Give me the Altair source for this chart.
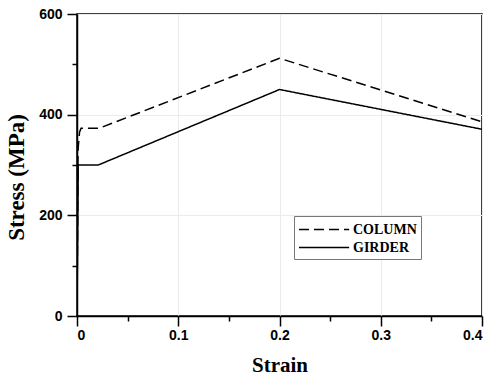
import altair as alt
import pandas as pd

col_strain = [0.0, 0.001, 0.0025, 0.004, 0.022, 0.2, 0.4]
col_stress = [0, 330, 365, 373, 373, 512, 386]
gir_strain = [0.0, 0.0012, 0.021, 0.2, 0.4]
gir_stress = [0, 300, 300, 450, 371]

x_ticks = [0, 0.05, 0.1, 0.15, 0.2, 0.25, 0.3, 0.35, 0.4]
y_ticks = [0, 100, 200, 300, 400, 500, 600]

rows = []
for i, (s, v) in enumerate(zip(col_strain, col_stress)):
    rows.append({"series": "COLUMN", "strain": s, "stress": v, "o": i})
for i, (s, v) in enumerate(zip(gir_strain, gir_stress)):
    rows.append({"series": "GIRDER", "strain": s, "stress": v, "o": i})
df = pd.DataFrame(rows)

x_major = "abs(datum.value*10 - round(datum.value*10)) < 0.001"
y_major = "datum.value % 200 == 0"

chart = alt.Chart(df).mark_line(color="black", strokeWidth=1.5, clip=True).encode(
    x=alt.X("strain:Q", title="Strain",
            scale=alt.Scale(domain=[0, 0.4], nice=False, zero=False),
            axis=alt.Axis(values=x_ticks,
                          labelExpr=f"({x_major}) ? (datum.value == 0 ? '0' : format(datum.value, '.1f')) : ''",
                          tickSize=10,
                          tickDash=alt.ConditionalAxisNumberArray(condition={"test": x_major, "value": [20, 2]}, value=[5, 20]),
                          gridOpacity=alt.ConditionalAxisNumber(condition={"test": x_major, "value": 1}, value=0),
                          )),
    y=alt.Y("stress:Q", title="Stress (MPa)",
            scale=alt.Scale(domain=[0, 600], nice=False),
            axis=alt.Axis(values=y_ticks,
                          labelExpr=f"({y_major}) ? format(datum.value, 'd') : ''",
                          tickSize=10,
                          tickDash=alt.ConditionalAxisNumberArray(condition={"test": y_major, "value": [20, 2]}, value=[5, 20]),
                          gridOpacity=alt.ConditionalAxisNumber(condition={"test": y_major, "value": 1}, value=0),
                          titleY=163,
                          )),
    strokeDash=alt.StrokeDash("series:N", title=None,
                              scale=alt.Scale(domain=["COLUMN", "GIRDER"], range=[[10, 5], [1, 0]]),
                              legend=alt.Legend(orient="none", legendX=217, legendY=202,
                                                symbolType="M-1,0H4.9", symbolSize=289,
                                                symbolStrokeColor="black", symbolStrokeWidth=1.5,
                                                labelFont="Liberation Serif", labelFontWeight="bold",
                                                labelFontSize=14, labelColor="black", labelOffset=36,
                                                strokeColor="#777777", fillColor="white",
                                                padding=4, rowPadding=1)),
    order="o:Q",
).properties(
    width=405, height=302,
    autosize=alt.AutoSizeParams(type="none"),
    padding={"left": 77, "top": 14, "right": 12, "bottom": 62},
).configure_view(
    stroke="black", strokeWidth=1.5
).configure_axis(
    domainColor="black", domainWidth=1.5,
    tickColor="black", tickWidth=1.5,
    gridColor="#ebebeb", gridWidth=1,
    labelFont="Liberation Sans", labelFontWeight="bold", labelFontSize=14, labelColor="black",
    titleFont="Liberation Serif", titleFontWeight="bold", titleColor="black",
).configure_axisX(
    labelPadding=2, titleFontSize=21, titlePadding=12,
).configure_axisY(
    labelPadding=5, titleFontSize=23, titlePadding=10,
)

chart.save("out.html", embed_options={"renderer": "svg", "actions": False})
